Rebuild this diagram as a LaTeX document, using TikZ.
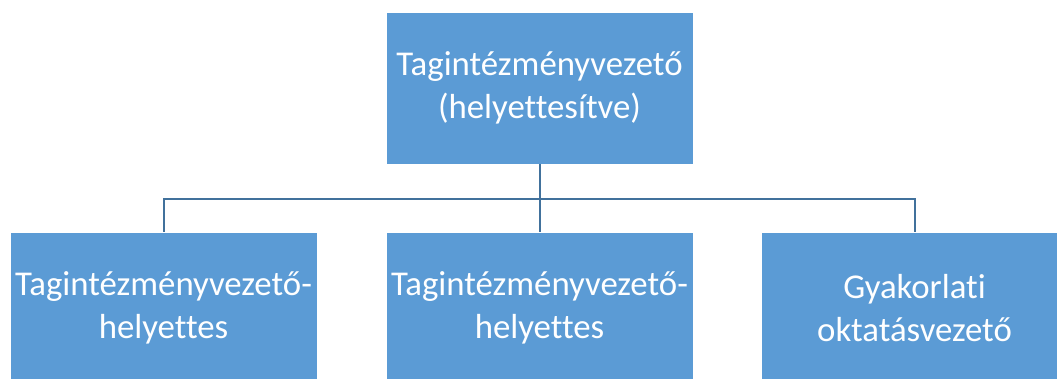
\documentclass[tikz,border=0pt]{standalone}
\usepackage{fontspec}
\setmainfont[Ligatures={NoCommon}]{Carlito}
\definecolor{boxblue}{HTML}{5B9BD5}
\definecolor{lineblue}{HTML}{41719C}
\begin{document}
\begin{tikzpicture}[x=1pt,y=1pt,
  orgbox/.style={fill=boxblue, draw=white, line width=0.8pt, minimum width=307pt, minimum height=152pt,
    text=white, align=center, inner sep=0pt, font=\fontsize{34.8}{43}\selectfont},
  conn/.style={draw=lineblue, line width=2pt}]
\useasboundingbox (0,0) rectangle (1057,378);
\node[orgbox] (top) at (539.5,290) {Tagintézményvezető\\(helyettesítve)};
\node[orgbox] (b1) at (163.5,70) {Tagintézményvezető-\\helyettes};
\node[orgbox] (b2) at (539.5,70) {Tagintézményvezető-\\helyettes};
\node[orgbox] (b3) at (914.5,70) {Gyakorlati\\oktatásvezető};
\coordinate (bus) at (539.5,179);
\draw[conn] (top.south) -- (b2.north);
\draw[conn] (bus) -| (b1.north);
\draw[conn] (bus) -| (b3.north);
\end{tikzpicture}
\end{document}
